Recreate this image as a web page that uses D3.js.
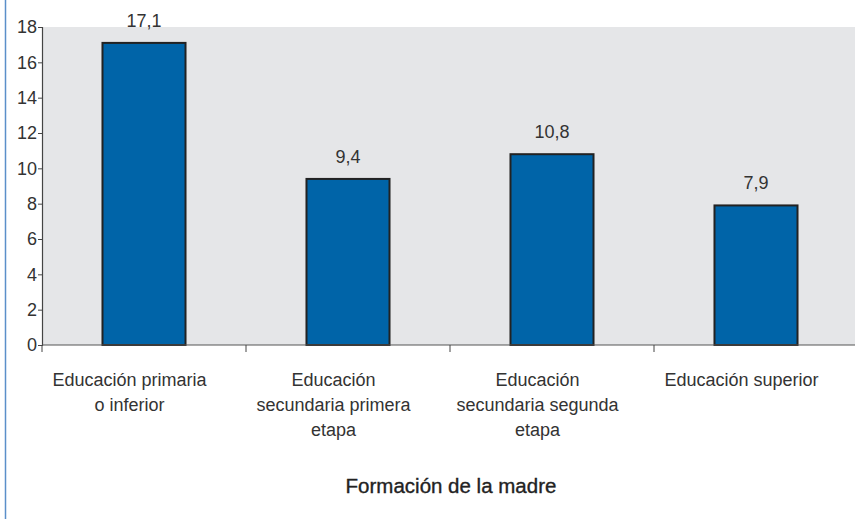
<!DOCTYPE html>
<html><head><meta charset="utf-8">
<script src="https://cdn.jsdelivr.net/npm/d3@7"></script>
<style>body{margin:0;background:#fff}svg{display:block}text{font-family:"Liberation Sans",Arial,sans-serif}</style>
</head><body>
<script>
const categories = [
  ["Educación primaria", "o inferior"],
  ["Educación", "secundaria primera", "etapa"],
  ["Educación", "secundaria segunda", "etapa"],
  ["Educación superior"]
];
const values = [17.1, 9.4, 10.8, 7.9];
const valueLabels = ["17,1", "9,4", "10,8", "7,9"];
const yTicks = [0, 2, 4, 6, 8, 10, 12, 14, 16, 18];
const xTitle = "Formación de la madre";

const W = 855, H = 519;
const svg = d3.select("body").append("svg").attr("width", W).attr("height", H);

const x0 = 42, x1 = 858, yTop = 27, yBot = 345;
const x = d3.scaleBand().domain(d3.range(categories.length)).range([x0, x1]).paddingInner(0.593).paddingOuter(0.2965);
const xb = d3.scaleBand().domain(d3.range(categories.length)).range([x0, x1]);
const y = d3.scaleLinear().domain([0, 18]).range([yBot, yTop]);

// left border line
svg.append("line").attr("x1", 5.5).attr("x2", 5.5).attr("y1", 0).attr("y2", H)
  .attr("stroke", "#5b8fc9").attr("stroke-width", 1.5);

// plot background
svg.append("rect").attr("x", x0).attr("y", yTop).attr("width", W - x0).attr("height", yBot - yTop)
  .attr("fill", "#e5e6e8");

// bars
svg.selectAll("rect.bar").data(values).join("rect").attr("class", "bar")
  .attr("x", (d, i) => x(i)).attr("width", x.bandwidth())
  .attr("y", d => y(d)).attr("height", d => y(0) - y(d))
  .attr("fill", "#0064a8").attr("stroke", "#222").attr("stroke-width", 2);

// value labels
svg.selectAll("text.val").data(values).join("text").attr("class", "val")
  .attr("x", (d, i) => x(i) + x.bandwidth() / 2).attr("y", d => y(d) - 16)
  .attr("text-anchor", "middle").attr("font-size", 18).attr("fill", "#333")
  .text((d, i) => valueLabels[i]);

// y axis
const yAxis = svg.append("g").attr("transform", `translate(${x0},0)`)
  .call(d3.axisLeft(y).tickValues(yTicks).tickSize(4).tickPadding(1).tickFormat(d3.format("d")));
yAxis.select(".domain").attr("stroke", "#444").attr("stroke-width", 1.2);
yAxis.selectAll(".tick line").attr("stroke", "#444");
yAxis.selectAll(".tick text").attr("font-size", 18).attr("fill", "#333")
  .attr("font-family", "Liberation Sans, Arial, sans-serif");

// x axis baseline and boundary ticks
svg.append("line").attr("x1", x0).attr("x2", W).attr("y1", yBot).attr("y2", yBot)
  .attr("stroke", "#555").attr("stroke-width", 1.2);
svg.selectAll("line.xt").data(d3.range(categories.length + 1)).join("line").attr("class", "xt")
  .attr("x1", i => x0 + i * xb.bandwidth()).attr("x2", i => x0 + i * xb.bandwidth())
  .attr("y1", yBot).attr("y2", yBot + 7).attr("stroke", "#444").attr("stroke-width", 1);

// category labels
const cl = svg.selectAll("text.cat").data(categories).join("text").attr("class", "cat")
  .attr("text-anchor", "middle").attr("font-size", 18).attr("fill", "#333");
cl.each(function (lines, i) {
  d3.select(this).selectAll("tspan").data(lines).join("tspan")
    .attr("x", xb(i) + xb.bandwidth() / 2 - 14.5).attr("y", (d, j) => 386 + j * 25).text(d => d);
});

// x title
svg.append("text").attr("x", 451).attr("y", 493).attr("text-anchor", "middle")
  .attr("font-size", 20.5).attr("fill", "#222").attr("stroke", "#222").attr("stroke-width", 0.35)
  .text(xTitle);
</script>
</body></html>
